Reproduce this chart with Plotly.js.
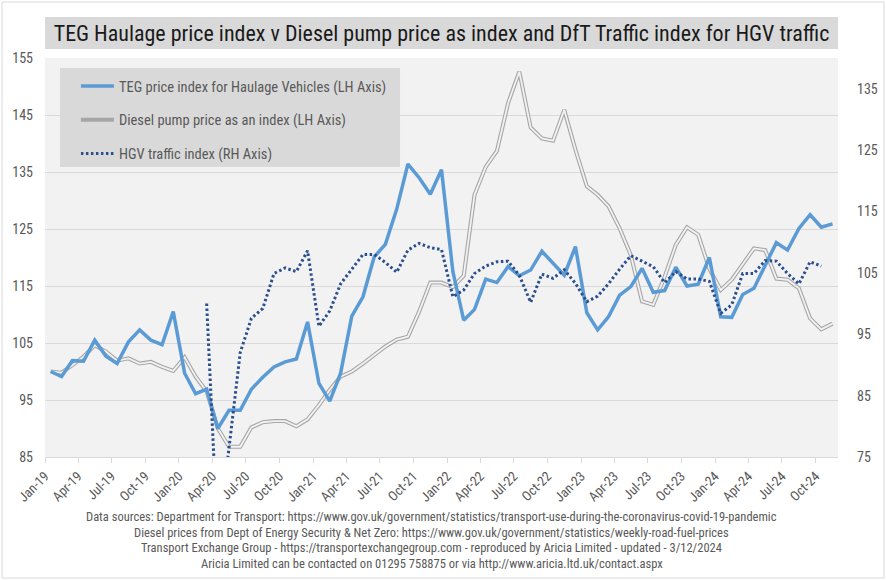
<!DOCTYPE html>
<html>
<head>
<meta charset="utf-8">
<script src="https://cdn.plot.ly/plotly-3.0.1.min.js"></script>
<style>html,body{margin:0;padding:0;background:#fff;}#chart{width:886px;height:580px;}</style>
</head>
<body>
<div id="chart"></div>
<script>
// Month categories Jan-19 .. Nov-24
const months = [];
for (let y = 2019; y <= 2024; y++) {
  for (let m = 1; m <= 12; m++) {
    if (y === 2024 && m === 12) break;
    months.push(y + '-' + String(m).padStart(2, '0'));
  }
}

// TEG price index for haulage vehicles (LH axis)
const tegIndex = [
  100.0, 99.1, 101.9, 101.8, 105.5, 102.7, 101.4, 105.2, 107.3, 105.5, 104.7, 110.5,
  99.7, 96.1, 96.9, 90.0, 93.2, 93.2, 96.9, 99.0, 100.8, 101.7, 102.2, 108.7,
  97.9, 94.8, 99.7, 109.7, 113.1, 120.1, 122.3, 128.5, 136.4, 134.0, 131.1, 135.4,
  117.5, 109.0, 110.9, 116.2, 115.6, 118.4, 116.8, 117.8, 121.1, 119.0, 116.9, 121.9,
  110.3, 107.3, 109.6, 113.4, 114.9, 118.1, 113.9, 114.2, 118.3, 115.0, 115.3, 120.0,
  109.6, 109.5, 113.5, 114.6, 118.7, 122.6, 121.3, 125.1, 127.5, 125.3, 125.9
];

// Diesel pump price as an index (LH axis)
const dieselIndex = [
  100.0, 99.8, 101.1, 102.6, 104.6, 103.5, 101.9, 102.3, 101.4, 101.7, 100.8, 100.1,
  102.5, 99.1, 96.5, 90.0, 86.8, 86.8, 90.2, 91.1, 91.3, 91.3, 90.4, 91.6,
  94.1, 96.8, 99.1, 100.0, 101.4, 102.9, 104.4, 105.6, 106.1, 110.5, 115.6, 115.6,
  114.8, 116.8, 131.0, 135.9, 138.7, 147.1, 152.6, 142.8, 140.9, 140.5, 145.9, 138.9,
  132.5, 131.0, 129.0, 125.1, 120.4, 112.3, 111.7, 116.6, 122.2, 125.3, 124.0, 118.0,
  114.3, 116.1, 118.9, 121.6, 121.3, 116.3, 116.1, 114.6, 109.3, 107.4, 108.4
];

// HGV traffic index (RH axis)
const hgvIndex = [
  null, null, null, null, null, null, null, null, null, null, null, null,
  null, null, 100.0, 61.0, 76.5, 92.0, 97.6, 99.2, 104.9, 105.8, 105.2, 108.6,
  96.3, 98.8, 103.2, 105.6, 108.0, 108.0, 106.7, 105.1, 108.7, 109.8, 109.1, 108.8,
  101.1, 102.2, 104.9, 106.1, 106.8, 106.9, 104.6, 100.2, 104.8, 104.1, 105.5, 103.3,
  100.3, 101.2, 103.2, 105.6, 107.8, 106.9, 106.0, 103.4, 105.2, 104.0, 104.0, 103.6,
  98.4, 99.8, 104.9, 104.9, 107.0, 106.9, 104.9, 103.2, 106.8, 106.1, null
];

const seriesNames = [
  'TEG price index for Haulage Vehicles (LH Axis)',
  'Diesel pump price as an index (LH Axis)',
  'HGV traffic index (RH Axis)'
];
const titleText = 'TEG Haulage price index v Diesel pump price as index and DfT Traffic index for HGV traffic';
const footerLines = [
  'Data sources: Department for Transport: https://www.gov.uk/government/statistics/transport-use-during-the-coronavirus-covid-19-pandemic',
  'Diesel prices from Dept of Energy Security & Net Zero: https://www.gov.uk/government/statistics/weekly-road-fuel-prices',
  'Transport Exchange Group - https://transportexchangegroup.com - reproduced by Aricia Limited - updated - 3/12/2024',
  'Aricia Limited can be contacted on 01295 758875 or via http://www.aricia.ltd.uk/contact.aspx'
];

const FONT = '"Liberation Sans Narrow", "Roboto Condensed", Lato, "Liberation Sans", sans-serif';
const common = {x: months, xperiod: 'M1', xperiodalignment: 'middle', mode: 'lines', hoverinfo: 'skip'};

const traces = [
  Object.assign({}, common, {y: dieselIndex, name: seriesNames[1], legendrank: 2, legendgroup: 'd',
    line: {color: '#a6a6a6', width: 4}}),
  Object.assign({}, common, {y: dieselIndex, showlegend: false, legendgroup: 'd',
    line: {color: '#f2f2f2', width: 1.8}}),
  Object.assign({}, common, {y: tegIndex, name: seriesNames[0], legendrank: 1, legendgroup: 't',
    line: {color: '#5b9bd5', width: 3.5}}),
  Object.assign({}, common, {y: hgvIndex, name: seriesNames[2], legendrank: 3, legendgroup: 'h', yaxis: 'y2',
    connectgaps: false, line: {color: '#2b4f8e', width: 3, dash: '2.5px,2.5px'}})
];

const footerY = [-0.1479, -0.1880, -0.2256, -0.2657];
const annotations = footerLines.map((t, i) => ({
  text: t, xref: 'paper', yref: 'paper', x: 0.488, y: footerY[i], xanchor: 'center', yanchor: 'middle',
  showarrow: false, font: {family: FONT, size: 12.5, color: '#595959'}
}));

const layout = {
  width: 886, height: 580,
  margin: {l: 45, r: 48, t: 58, b: 123},
  paper_bgcolor: '#ffffff', plot_bgcolor: '#f2f2f2',
  font: {family: FONT, color: '#595959', size: 13},
  title: {text: titleText, x: 0.5, xref: 'paper', xanchor: 'center', y: 1 - 33 / 580, yref: 'container', yanchor: 'middle',
    font: {family: FONT, size: 22, color: '#1a1a1a'}},
  showlegend: true,
  legend: {x: 0.039, y: 0.97, xanchor: 'left', yanchor: 'top', bgcolor: 'rgba(0,0,0,0)', borderwidth: 0,
    traceorder: 'grouped', tracegroupgap: 12, itemwidth: 33,
    font: {family: FONT, size: 14.5, color: '#595959'}},
  xaxis: {type: 'date', range: ['2019-01-01', '2024-12-01'], tick0: '2019-01-01', dtick: 'M3', tickformat: '%b-%y',
    tickangle: -45, ticks: 'outside', ticklen: 5, tickcolor: '#d9d9d9', showline: true, linecolor: '#d9d9d9',
    showgrid: false, zeroline: false, tickfont: {family: FONT, size: 13.5, color: '#595959'}},
  yaxis: {range: [85, 155], tick0: 85, dtick: 10, gridcolor: '#d9d9d9', gridwidth: 1, showline: false, zeroline: false,
    ticks: '', ticklabelstandoff: 11, tickfont: {family: FONT, size: 14, color: '#595959'}},
  yaxis2: {overlaying: 'y', side: 'right', range: [75, 140], tick0: 75, dtick: 10, showgrid: false, zeroline: false,
    showline: false, ticks: '', ticklabelstandoff: 18, tickfont: {family: FONT, size: 14, color: '#595959'}},
  shapes: [
    {type: 'rect', xref: 'paper', yref: 'paper', x0: -0.0542, x1: 1.058, y0: -0.3033, y1: 1.1404,
      line: {color: '#d9d9d9', width: 1}, fillcolor: 'rgba(0,0,0,0)', layer: 'below'},
    {type: 'rect', xref: 'paper', yref: 'paper', x0: 0, x1: 1, y0: 1.0226, y1: 1.1028,
      line: {width: 0}, fillcolor: '#d9d9d9', layer: 'below'},
    {type: 'rect', xref: 'paper', yref: 'paper', x0: 0.0189, x1: 0.4477, y0: 0.7268, y1: 0.975,
      line: {width: 0}, fillcolor: '#d9d9d9', layer: 'between'}
  ],
  annotations: annotations
};

Plotly.newPlot('chart', traces, layout, {displayModeBar: false, staticPlot: true});
</script>
</body>
</html>
